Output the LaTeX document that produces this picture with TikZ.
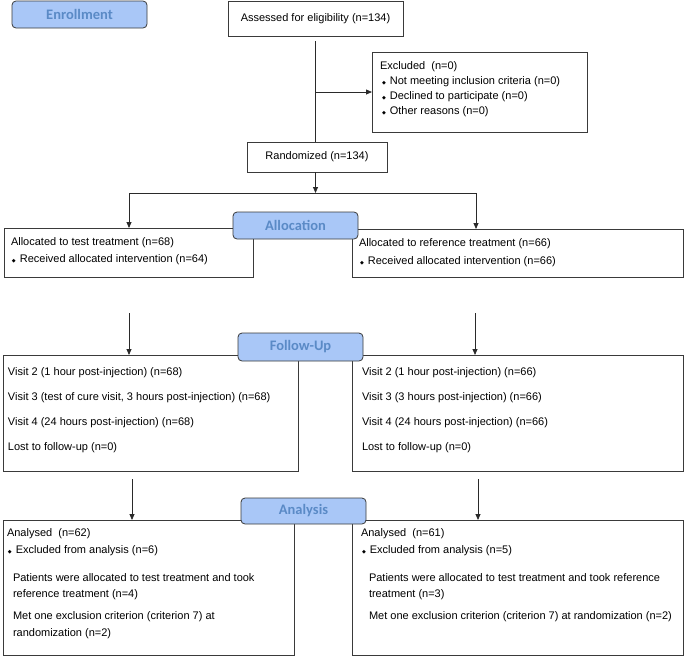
\documentclass[tikz,border=0pt]{standalone}
\usepackage{fontspec}
\setmainfont{Liberation Sans}
\newfontfamily\labfont{Carlito}
\newfontfamily\symfont{DejaVu Sans}
\usetikzlibrary{arrows.meta}
\definecolor{boxcol}{HTML}{3A3A3A}
\definecolor{linecol}{HTML}{2A2A2A}
\definecolor{labfill}{HTML}{A9C7F7}
\definecolor{labtext}{HTML}{5A8AC6}
\newcommand{\dia}{{\symfont\fontsize{5}{5}\selectfont\raisebox{0.6pt}{◆}}\hspace{4pt}}
\begin{document}
\begin{tikzpicture}[x=1pt,y=-1pt,
  every node/.style={inner sep=0pt, outer sep=0pt},
  box/.style={draw=boxcol, line width=0.8pt, anchor=north west, font=\fontsize{11}{13}\selectfont},
  lab/.style={draw=boxcol, fill=labfill, rounded corners=4pt, line width=0.8pt, anchor=north west,
    font=\labfont\bfseries\fontsize{14.5}{15}\selectfont, text=labtext},
  txt/.style={anchor=west, font=\fontsize{11}{13}\selectfont},
  arr/.style={-{Triangle[length=6pt,width=5pt]}, line width=0.8pt, draw=linecol},
  ln/.style={line width=0.8pt, draw=linecol}
]
\useasboundingbox (0,0) rectangle (685,657);

% boxes
\node[box, minimum width=175pt, minimum height=35pt] (assess) at (228,1) {Assessed for eligibility (n=134)};
\node[box, minimum width=215pt, minimum height=80pt] (excl) at (372,52) {};
\node[box, minimum width=140pt, minimum height=30pt] (rand) at (247,142) {Randomized (n=134)};
\node[box, minimum width=249pt, minimum height=49pt] (allocL) at (4,228) {};
\node[box, minimum width=331pt, minimum height=48pt] (allocR) at (352,229) {};
\node[box, minimum width=295pt, minimum height=116pt] (fuL) at (3,355) {};
\node[box, minimum width=331pt, minimum height=116pt] (fuR) at (352,355) {};
\node[box, minimum width=291pt, minimum height=135pt] (anL) at (3,520) {};
\node[box, minimum width=331pt, minimum height=135pt] (anR) at (352,520) {};

% labels
\node[lab, minimum width=135pt, minimum height=27pt] (enr) at (12,1) {Enrollment};

% excluded text
\node[txt] (ex1) at (380,67) {Excluded\ \ (n=0)};
\node[txt] (ex2) at (382,82) {\dia Not meeting inclusion criteria (n=0)};
\node[txt] (ex3) at (382,97) {\dia Declined to participate (n=0)};
\node[txt] (ex4) at (382,112) {\dia Other reasons (n=0)};

% allocation text
\node[txt] (al1) at (11,243) {Allocated to test treatment (n=68)};
\node[txt] (al2) at (12,260) {\dia Received allocated intervention (n=64)};
\node[txt] (ar1) at (359,244) {Allocated to reference treatment (n=66)};
\node[txt] (ar2) at (360,262) {\dia Received allocated intervention (n=66)};

% follow-up text
\node[txt] (fl1) at (8,373) {Visit 2 (1 hour post-injection) (n=68)};
\node[txt] (fl2) at (8,398) {Visit 3 (test of cure visit, 3 hours post-injection) (n=68)};
\node[txt] (fl3) at (8,423) {Visit 4 (24 hours post-injection) (n=68)};
\node[txt] (fl4) at (8,448) {Lost to follow-up (n=0)};
\node[txt] (fr1) at (362,373) {Visit 2 (1 hour post-injection) (n=66)};
\node[txt] (fr2) at (362,398) {Visit 3 (3 hours post-injection) (n=66)};
\node[txt] (fr3) at (362,423) {Visit 4 (24 hours post-injection) (n=66)};
\node[txt] (fr4) at (362,448) {Lost to follow-up (n=0)};

% analysis text
\node[txt] (nl1) at (7,534) {Analysed\ \ (n=62)};
\node[txt] (nl2) at (8,551) {\dia Excluded from analysis (n=6)};
\node[txt] (nl3) at (13,578) {Patients were allocated to test treatment and took};
\node[txt] (nl4) at (13,595) {reference treatment (n=4)};
\node[txt] (nl5) at (13,617) {Met one exclusion criterion (criterion 7) at};
\node[txt] (nl6) at (13,634) {randomization (n=2)};
\node[txt] (nr1) at (361,534) {Analysed\ \ (n=61)};
\node[txt] (nr2) at (362,551) {\dia Excluded from analysis (n=5)};
\node[txt] (nr3) at (369,578) {Patients were allocated to test treatment and took reference};
\node[txt] (nr4) at (369,595) {treatment (n=3)};
\node[txt] (nr5) at (369,617) {Met one exclusion criterion (criterion 7) at randomization (n=2)};

% connectors
\draw[ln, shorten <=5pt] (assess.south) -- (assess.south |- rand.north);
\coordinate (br) at (assess.south |- excl.west);
\draw[arr] (br) -- (excl.west);
\coordinate (sl) at (129,193);
\coordinate (sr) at (476,193);
\draw[arr] (assess.south |- rand.south) -- (assess.south |- sl);
\draw[ln] (sl) -- (sr);
\draw[arr] (sl) -- (sl |- allocL.north);
\draw[arr] (sr) -- (sr |- allocR.north);
\coordinate (fa) at (129,313);
\coordinate (fb) at (475,313);
\draw[arr] (fa) -- (fa |- fuL.north);
\draw[arr] (fb) -- (fb |- fuR.north);
\coordinate (ga) at (132,479);
\coordinate (gb) at (478,479);
\draw[arr] (ga) -- (ga |- anL.north);
\draw[arr] (gb) -- (gb |- anR.north);

% stage labels on top of the boxes
\node[lab, minimum width=125pt, minimum height=27pt] (alo) at (233,212) {Allocation};
\node[lab, minimum width=125pt, minimum height=28pt] (fol) at (238,333) {Follow-Up};
\node[lab, minimum width=125pt, minimum height=26pt] (ana) at (241,498) {Analysis};
\end{tikzpicture}
\end{document}
